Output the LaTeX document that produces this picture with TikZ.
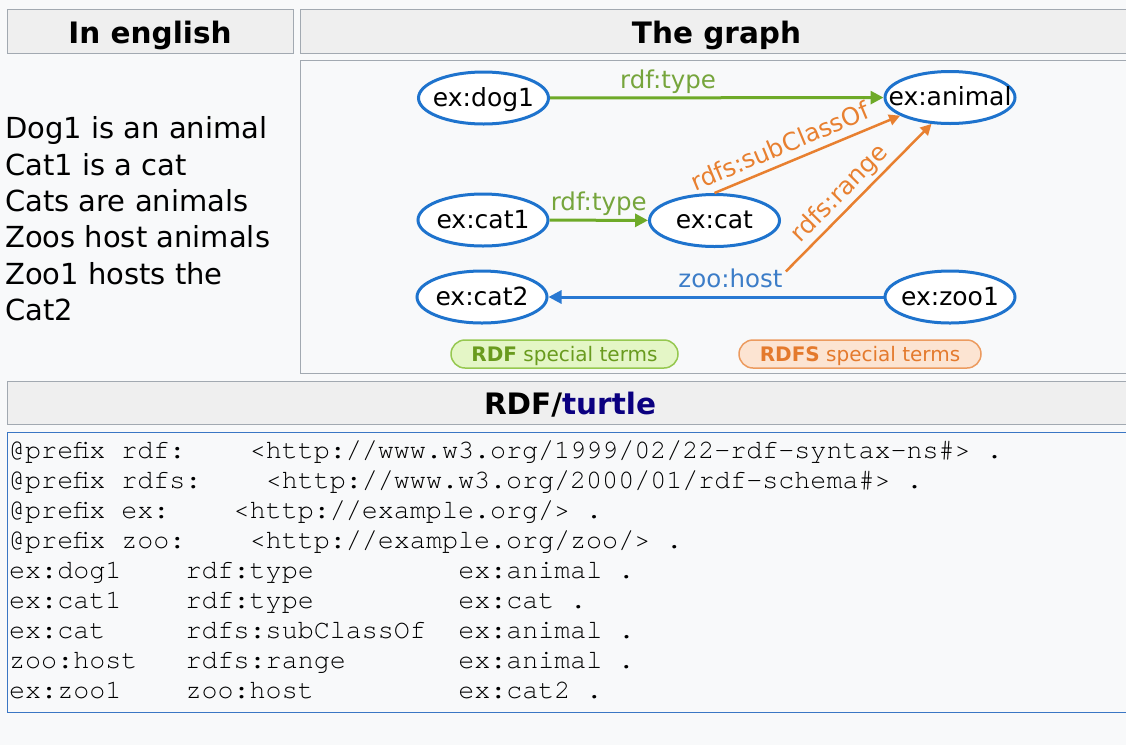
\documentclass[tikz,border=0pt]{standalone}
\usepackage{fontspec}
\setmainfont{DejaVu Sans}
\newfontfamily\codefont{TeX Gyre Cursor}
\usetikzlibrary{shapes.geometric,arrows.meta,calc}
\definecolor{bgc}{HTML}{F8F9FA}
\definecolor{hdr}{HTML}{EFEFEF}
\definecolor{bord}{HTML}{A2A9B1}
\definecolor{codeb}{RGB}{58,118,196}
\definecolor{nodeb}{RGB}{30,115,205}
\definecolor{grn}{RGB}{110,170,40}
\definecolor{grntxt}{RGB}{118,165,60}
\definecolor{org}{RGB}{232,128,48}
\definecolor{blu}{RGB}{40,120,210}
\definecolor{blutxt}{RGB}{60,125,200}
\definecolor{navy}{HTML}{0B0080}
\definecolor{pillg}{RGB}{228,246,198}
\definecolor{pillgb}{RGB}{150,200,80}
\definecolor{pillgt}{RGB}{105,155,30}
\definecolor{pillo}{RGB}{252,228,210}
\definecolor{pillob}{RGB}{236,155,95}
\definecolor{pillot}{RGB}{228,122,45}
\newlength\cwd
\setlength\cwd{16.04pt}
\newcommand\cc[2]{\makebox[#1\cwd][l]{#2}}
\newcommand\rlab[1]{\makebox[0pt]{#1}}
\begin{document}
\begin{tikzpicture}[x=1pt,y=-1pt,
  hdrcell/.style={draw=bord,fill=hdr,line width=1pt,minimum height=44pt,inner sep=0pt,
    font=\fontsize{29.5}{34}\selectfont\bfseries,text height=23pt,text depth=0pt},
  eng/.style={anchor=base west,inner sep=0pt,font=\fontsize{29}{36}\selectfont},
  res/.style={ellipse,draw=nodeb,fill=white,line width=3pt,minimum width=130pt,minimum height=52pt,
    inner sep=0pt,font=\fontsize{25}{30}\selectfont,text height=16pt,text depth=0pt},
  lbl/.style={font=\fontsize{24.5}{30}\selectfont,inner sep=2pt,text depth=6pt},
  gedge/.style={draw=grn,line width=3pt,-{Triangle[length=13pt,width=13pt]}},
  bedge/.style={draw=blu,line width=3pt,-{Triangle[length=13pt,width=13pt]}},
  oedge/.style={draw=org,line width=2.5pt,-{Triangle[length=11pt,width=11pt]}},
  pill/.style={rounded corners=14pt,minimum height=28pt,line width=1.5pt,inner sep=0pt,
    font=\fontsize{20}{24}\selectfont,text height=14pt,text depth=0pt},
  code/.style={anchor=base west,inner sep=0pt,text=black,font=\codefont\fontsize{26.7}{30}\selectfont}
]
\useasboundingbox (0,0) rectangle (1126,745);
\clip (0,0) rectangle (1126,745);
\fill[bgc] (0,0) rectangle (1126,745);

% headers
\node[hdrcell,minimum width=286pt] (h1) at (150,31.5) {In english};
\node[hdrcell,minimum width=832pt] (h2) at (716.5,31.5) {The graph};
\node[hdrcell,minimum width=1126pt,minimum height=43pt] (h3) at (570,403) {RDF/\textcolor{navy}{turtle}};

% graph cell
\draw[draw=bord,fill=bgc,line width=1pt] (300.5,60.5) rectangle (1140,373.5);

% english text
\node[eng] (e1) at (5,138.5) {Dog1 is an animal};
\node[eng] (e2) at (5,175) {Cat1 is a cat};
\node[eng] (e3) at (5,211.5) {Cats are animals};
\node[eng] (e4) at (5,247.5) {Zoos host animals};
\node[eng] (e5) at (5,284) {Zoo1 hosts the};
\node[eng] (e6) at (5,320) {Cat2};

% graph nodes
\node[res] (dog1) at (483.5,98) {\rlab{ex:dog1}};
\node[res] (animal) at (950,97.5) {\rlab{ex:animal}};
\node[res] (cat1) at (483,220) {\rlab{ex:cat1}};
\node[res] (cat) at (714.5,220.5) {\rlab{ex:cat}};
\node[res] (cat2) at (482,297) {\rlab{ex:cat2}};
\node[res] (zoo1) at (950,297) {\rlab{ex:zoo1}};

% edges
\draw[gedge] (dog1) -- node[lbl,text=grntxt,pos=0.354,above] (l1) {rdf:type} (animal);
\draw[gedge] (cat1) -- node[lbl,text=grntxt,midway,above] (l2) {rdf:type} (cat);
\draw[bedge] (zoo1) -- node[lbl,text=blutxt,pos=0.457,above] (zh) {zoo:host} (cat2);
\draw[oedge] (cat.north) -- node[lbl,text=org,sloped,above,pos=0.39] (l3) {rdfs:subClassOf} (animal.200);
\draw[oedge] (zh.10) -- node[lbl,text=org,sloped,above,pos=0.45] (l4) {rdfs:range} (animal.235);

% legend
\node[pill,draw=pillgb,fill=pillg,minimum width=227pt,text=pillgt] (lg1) at (564.5,354) {\textbf{RDF} special terms};
\node[pill,draw=pillob,fill=pillo,minimum width=242pt,text=pillot] (lg2) at (860,354) {\textbf{RDFS} special terms};

% code box
\draw[draw=codeb,fill=bgc,line width=1pt] (7,432.5) rectangle (1140,712.5);
\node[code] (c1) at (9,458) {\cc{15}{@prefix rdf:}<http://www.w3.org/1999/02/22-rdf-syntax-ns\#> .};
\node[code] (c2) at (9,488) {\cc{16}{@prefix rdfs:}<http://www.w3.org/2000/01/rdf-schema\#> .};
\node[code] (c3) at (9,518) {\cc{14}{@prefix ex:}<http://example.org/> .};
\node[code] (c4) at (9,548) {\cc{15}{@prefix zoo:}<http://example.org/zoo/> .};
\node[code] (c5) at (9,578) {\cc{11}{ex:dog1}\cc{17}{rdf:type}ex:animal .};
\node[code] (c6) at (9,608) {\cc{11}{ex:cat1}\cc{17}{rdf:type}ex:cat .};
\node[code] (c7) at (9,638) {\cc{11}{ex:cat}\cc{17}{rdfs:subClassOf}ex:animal .};
\node[code] (c8) at (9,668) {\cc{11}{zoo:host}\cc{17}{rdfs:range}ex:animal .};
\node[code] (c9) at (9,698) {\cc{11}{ex:zoo1}\cc{17}{zoo:host}ex:cat2 .};
\end{tikzpicture}
\end{document}
